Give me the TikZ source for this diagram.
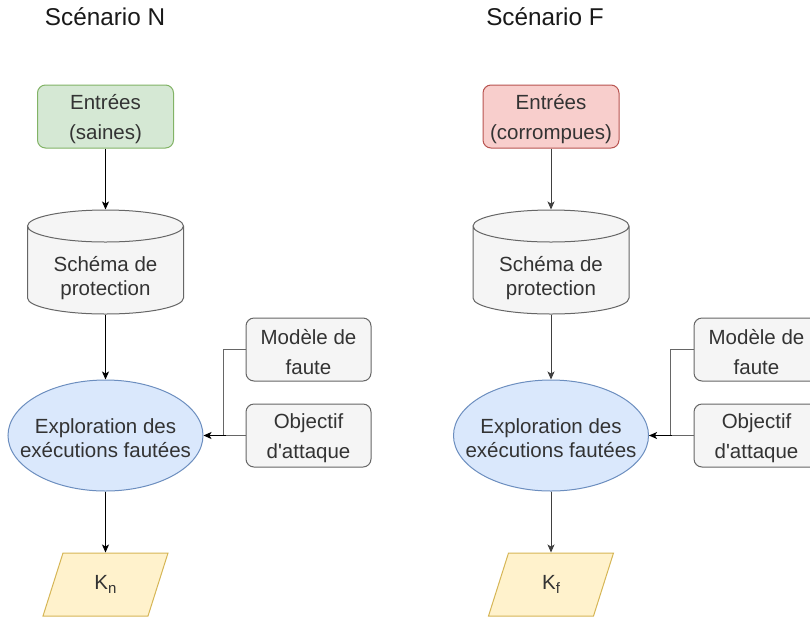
\documentclass[tikz,border=0pt]{standalone}
\usepackage{fontspec}
\setmainfont{Liberation Sans}
\usetikzlibrary{shapes.geometric,arrows.meta}
\definecolor{gfill}{HTML}{D5E8D4}\definecolor{gline}{HTML}{82B366}
\definecolor{rfill}{HTML}{F8CECC}\definecolor{rline}{HTML}{B85450}
\definecolor{nfill}{HTML}{F5F5F5}\definecolor{nline}{HTML}{666666}
\definecolor{bfill}{HTML}{DAE8FC}\definecolor{bline}{HTML}{6C8EBF}
\definecolor{yfill}{HTML}{FFF2CC}\definecolor{yline}{HTML}{D6B656}
\definecolor{txt}{HTML}{333333}
\tikzset{
  shp/.style={inner sep=0pt, line width=1pt},
  lbl/.style={text=txt, font=\fontsize{20.5}{30}\selectfont, align=center, inner sep=0pt},
  lbltight/.style={lbl, font=\fontsize{20.5}{24}\selectfont},
  inbox/.style={shp, rounded corners=8pt, minimum width=136pt, minimum height=63pt, draw},
  sidebox/.style={shp, rounded corners=8pt, minimum width=125pt, minimum height=63pt, draw=nline, fill=nfill},
  explo/.style={shp, ellipse, draw=bline, fill=bfill, minimum width=195pt, minimum height=111pt},
  hold/.style={shp, minimum width=156pt, minimum height=104pt},
  kbox/.style={shp, minimum width=105pt, minimum height=63pt},
  title/.style={font=\fontsize{24.3}{29}\selectfont, text=black!90, anchor=base, inner sep=0pt},
  arr/.style={line width=1pt, -{Stealth[length=8pt,width=7pt,inset=2pt]}},
  link/.style={line width=1pt, draw=nline}
}
\newcommand{\cyl}[2]{% center x, center y
  \fill[nfill] (#1-78,#2+36) -- (#1-78,#2-36) arc[start angle=180,end angle=360,x radius=78pt,y radius=16pt] -- (#1+78,#2+36) arc[start angle=0,end angle=180,x radius=78pt,y radius=16pt] -- cycle;
  \draw[nline,line width=1pt] (#1-78,#2+36) -- (#1-78,#2-36) arc[start angle=180,end angle=360,x radius=78pt,y radius=16pt] -- (#1+78,#2+36) arc[start angle=0,end angle=360,x radius=78pt,y radius=16pt];
}
\newcommand{\para}[2]{% center x, center y
  \filldraw[fill=yfill,draw=yline,line width=1pt] (#1-42.5,#2+31.5) -- (#1+62.5,#2+31.5) -- (#1+42.5,#2-31.5) -- (#1-62.5,#2-31.5) -- cycle;
}
\newcommand{\ksub}[1]{K\raisebox{-0.35ex}{\fontsize{15}{15}\selectfont #1}}
\begin{document}
\begin{tikzpicture}[x=1pt,y=1pt]
\useasboundingbox (0,0) rectangle (810,-619);
\fill[white] (0,0) rectangle (810,-619);
% ---------- Scenario N ----------
\node[title] (tN) at (105,-25) {Scénario N};
\node[inbox, draw=gline, fill=gfill] (inN) at (105.5,-116.5) {};
\node[lbl] (inNt) at (105.5,-119.5) {Entrées\\(saines)};
\cyl{105.5}{-262}
\node[hold] (cyN) at (105.5,-262) {};
\node[lbltight] (cyNt) at (105.5,-278) {Schéma de\\protection};
\node[explo] (exN) at (105.5,-435.5) {};
\node[lbltight] (exNt) at (105.5,-438) {Exploration des\\exécutions fautées};
\node[sidebox] (moN) at (308.5,-349.5) {};
\node[lbl] (moNt) at (308.5,-352) {Modèle de\\faute};
\node[sidebox] (obN) at (308.5,-435.5) {};
\node[lbl] (obNt) at (308.5,-438.5) {Objectif\\d\textquotesingle attaque};
\para{105.5}{-584.5}
\node[kbox] (kN) at (105.5,-584.5) {};
\node[lbl] (kNt) at (105.5,-584.5) {\ksub{n}};
\draw[arr] (inN.south) -- (cyN.north);
\draw[arr] (cyN.south) -- (exN.north);
\draw[arr] (exN.south) -- (kN.north);
\draw[link] (moN.west) -- ++(-22,0) |- (exN.east);
\draw[link] (obN.west) -- (exN.east);
\draw[arr] ([xshift=22pt]exN.east) -- (exN.east);
% ---------- Scenario F ----------
\node[title] (tF) at (545,-25) {Scénario F};
\node[inbox, draw=rline, fill=rfill] (inF) at (551,-116.5) {};
\node[lbl] (inFt) at (551,-119.5) {Entrées\\(corrompues)};
\cyl{551}{-262}
\node[hold] (cyF) at (551,-262) {};
\node[lbltight] (cyFt) at (551,-278) {Schéma de\\protection};
\node[explo] (exF) at (551,-435.5) {};
\node[lbltight] (exFt) at (551,-438) {Exploration des\\exécutions fautées};
\node[sidebox] (moF) at (756.5,-349.5) {};
\node[lbl] (moFt) at (756.5,-352) {Modèle de\\faute};
\node[sidebox] (obF) at (756.5,-435.5) {};
\node[lbl] (obFt) at (756.5,-438.5) {Objectif\\d\textquotesingle attaque};
\para{551}{-584.5}
\node[kbox] (kF) at (551,-584.5) {};
\node[lbl] (kFt) at (551,-584.5) {\ksub{f}};
\draw[arr, draw=black!75, fill=black!75] (inF.south) -- (cyF.north);
\draw[arr, draw=black!75, fill=black!75] (cyF.south) -- (exF.north);
\draw[arr, draw=black!75, fill=black!75] (exF.south) -- (kF.north);
\draw[link] (moF.west) -- ++(-23,0) |- (exF.east);
\draw[link] (obF.west) -- (exF.east);
\draw[arr] ([xshift=23pt]exF.east) -- (exF.east);
\end{tikzpicture}
\end{document}
